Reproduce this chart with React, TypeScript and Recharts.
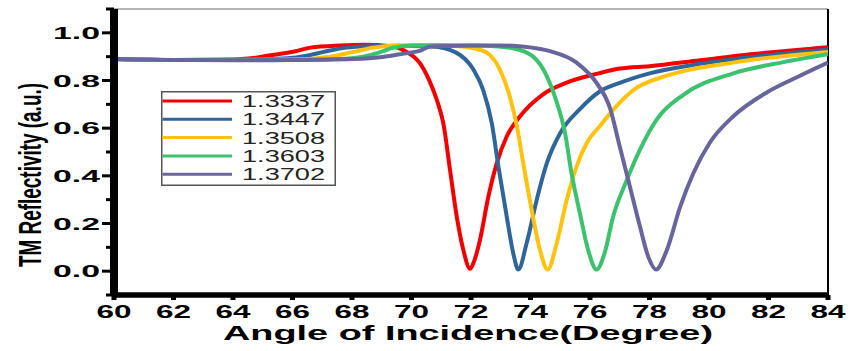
import React from "react";
import {
  Legend,
  Line,
  LineChart,
  ReferenceLine,
  XAxis,
  YAxis,
} from "recharts";

// refractive indices shown in the legend
const names: string[] = ["1.3337", "1.3447", "1.3508", "1.3603", "1.3702"];
const colors: string[] = ["#F20000", "#30659A", "#FFC20E", "#3CC26E", "#67659B"];

// angle of incidence (deg) and TM reflectivity, one pair per curve
const anglesA = [60, 62, 64, 64.6, 65.2, 65.6, 66.1, 66.6, 67.6, 68.4, 69.3, 69.8, 70.3, 70.7, 70.9, 71.07, 71.3, 71.52, 71.74, 71.97, 72.1, 72.3, 72.58, 72.86, 73.2, 73.65, 74.4, 75.2, 76.3, 77, 78, 79.7, 81.4, 84];
const reflA = [0.89, 0.886, 0.888, 0.893, 0.905, 0.912, 0.923, 0.938, 0.947, 0.95, 0.944, 0.923, 0.87, 0.77, 0.7, 0.62, 0.42, 0.23, 0.09, 0.01, 0.04, 0.13, 0.31, 0.45, 0.565, 0.65, 0.74, 0.79, 0.83, 0.85, 0.86, 0.885, 0.91, 0.94];

const anglesB = [60, 62, 64, 65, 66, 66.7, 67.26, 67.82, 68.6, 69.5, 70.7, 71.5, 72.08, 72.41, 72.7, 72.92, 73.2, 73.42, 73.59, 73.87, 74.21, 74.54, 75, 75.66, 76.34, 77, 78, 79.7, 81.94, 84];
const reflB = [0.89, 0.886, 0.887, 0.889, 0.895, 0.91, 0.926, 0.938, 0.944, 0.946, 0.943, 0.917, 0.846, 0.76, 0.62, 0.44, 0.23, 0.075, 0.007, 0.117, 0.3, 0.45, 0.58, 0.68, 0.755, 0.79, 0.83, 0.87, 0.905, 0.93];

const anglesC = [60, 62, 64, 66, 67.26, 68.16, 68.7, 69.5, 70.5, 71.6, 72.1, 72.53, 72.97, 73.31, 73.54, 73.76, 74.04, 74.32, 74.58, 74.88, 75.22, 75.55, 75.9, 76.34, 76.8, 77.46, 78.58, 80.8, 84];
const reflC = [0.89, 0.886, 0.887, 0.888, 0.9, 0.923, 0.938, 0.947, 0.948, 0.944, 0.935, 0.917, 0.846, 0.73, 0.61, 0.45, 0.257, 0.088, 0.007, 0.117, 0.3, 0.44, 0.54, 0.61, 0.68, 0.76, 0.82, 0.875, 0.92];

const anglesD = [60, 62, 64, 66, 67.5, 68.38, 69.05, 69.39, 70, 71, 72.5, 73.4, 74.09, 74.54, 74.88, 75.16, 75.38, 75.66, 75.94, 76.22, 76.5, 76.78, 77.23, 77.68, 78.24, 79.14, 80.82, 82.5, 84];
const reflD = [0.89, 0.886, 0.886, 0.887, 0.89, 0.9, 0.923, 0.938, 0.947, 0.948, 0.946, 0.935, 0.9, 0.82, 0.71, 0.58, 0.41, 0.243, 0.088, 0.007, 0.08, 0.23, 0.38, 0.51, 0.636, 0.74, 0.83, 0.877, 0.91];

const anglesE = [60, 62, 64, 66, 67, 68, 68.94, 69.5, 69.95, 70.3, 70.6, 71, 72, 73, 73.8, 74.66, 75.55, 76.22, 76.67, 77, 77.34, 77.68, 77.96, 78.22, 78.58, 79.03, 79.47, 80.03, 80.82, 81.94, 83.06, 84];
const reflE = [0.89, 0.886, 0.885, 0.886, 0.887, 0.89, 0.898, 0.908, 0.917, 0.925, 0.942, 0.945, 0.947, 0.947, 0.942, 0.923, 0.875, 0.79, 0.685, 0.523, 0.355, 0.187, 0.06, 0.007, 0.088, 0.27, 0.41, 0.54, 0.65, 0.75, 0.82, 0.875];

const xTicks = [60, 62, 64, 66, 68, 70, 72, 74, 76, 78, 80, 82, 84];
const yTicks = [-0.1, 0, 0.1, 0.2, 0.3, 0.4, 0.5, 0.6, 0.7, 0.8, 0.9, 1.0, 1.1];

const zip = (xs: number[], ys: number[]) => xs.map((angle, i) => ({ angle, v: ys[i] }));
const series = [
  zip(anglesA, reflA),
  zip(anglesB, reflB),
  zip(anglesC, reflC),
  zip(anglesD, reflD),
  zip(anglesE, reflE),
];

const FONT = "'Liberation Sans', Arial, sans-serif";

// the figure is stretched sideways, so glyphs are widened with textLength
const XTick = (props: any) => {
  const { x, y, payload } = props;
  return (
    <g>
      <line x1={x} x2={x} y1={y} y2={y + 5} stroke="#000" strokeWidth={5} />
      <text
        x={x - 17.5}
        y={y + 23}
        textLength={35}
        lengthAdjust="spacingAndGlyphs"
        fontFamily={FONT}
        fontWeight="bold"
        fontSize={18}
        fill="#000"
      >
        {payload.value}
      </text>
    </g>
  );
};

const YTick = (props: any) => {
  const { x, y, payload } = props;
  const major = Math.abs(Math.round(payload.value * 10)) % 2 === 0;
  return (
    <g>
      <line x1={x - (major ? 12 : 8)} x2={x} y1={y} y2={y} stroke="#000" strokeWidth={3} />
      {major && (
        <text
          x={x - 61}
          y={y + 6}
          textLength={47}
          lengthAdjust="spacingAndGlyphs"
          fontFamily={FONT}
          fontWeight="bold"
          fontSize={17}
          fill="#000"
        >
          {payload.value.toFixed(1)}
        </text>
      )}
    </g>
  );
};

const XTitle = (props: any) => {
  const { x, y, width } = props.viewBox;
  return (
    <text
      x={x + width / 2 - 248}
      y={y + 45}
      textLength={490}
      lengthAdjust="spacingAndGlyphs"
      fontFamily={FONT}
      fontWeight="bold"
      fontSize={19.5}
      fill="#000"
    >
      Angle of Incidence(Degree)
    </text>
  );
};

const YTitle = (props: any) => {
  const { y, height } = props.viewBox;
  const cy = y + height / 2 + 23;
  return (
    <text
      x={0}
      y={0}
      transform={`translate(41, ${cy + 92}) rotate(-90)`}
      textLength={184}
      lengthAdjust="spacingAndGlyphs"
      fontFamily={FONT}
      fontWeight="bold"
      fontSize={31}
      fill="#000"
    >
      TM Reflectivity (a.u.)
    </text>
  );
};

const LegendBox = () => (
  <svg width={175} height={95} style={{ display: "block" }}>
    <rect x={0.75} y={0.75} width={173.5} height={93.5} fill="#fff" stroke="#555" strokeWidth={1.5} />
    {names.map((name, i) => {
      const rowY = 10 + i * 18.3;
      return (
        <g key={name}>
          <line x1={1.5} x2={71} y1={rowY} y2={rowY} stroke={colors[i]} strokeWidth={3} />
          <text
            x={81}
            y={rowY + 6}
            textLength={83}
            lengthAdjust="spacingAndGlyphs"
            fontFamily={FONT}
            fontSize={17}
            fill="#222"
          >
            {name}
          </text>
        </g>
      );
    })}
  </svg>
);

const App: React.FC = () => {
  return (
    <div style={{ position: "absolute", left: 0, top: 0, background: "#fff" }}>
      <LineChart width={850} height={351} margin={{ top: 9, right: 22, bottom: 0, left: 0 }}>
        <XAxis
          type="number"
          dataKey="angle"
          domain={[60, 84]}
          ticks={xTicks}
          allowDataOverflow
          height={56}
          tickSize={0}
          tickMargin={0}
          tickLine={false}
          tick={<XTick />}
          axisLine={{ stroke: "#000", strokeWidth: 5 }}
          label={XTitle}
          interval={0}
        />
        <YAxis
          type="number"
          domain={[-0.1, 1.1]}
          ticks={yTicks}
          allowDataOverflow
          width={114}
          tickSize={0}
          tickMargin={0}
          tickLine={false}
          tick={<YTick />}
          axisLine={{ stroke: "#000", strokeWidth: 8 }}
          label={YTitle}
          interval={0}
        />
        <ReferenceLine y={1.1} stroke="#9a9a9a" strokeWidth={1.5} />
        <ReferenceLine x={84} stroke="#000" strokeWidth={2} />
        <ReferenceLine x={60} stroke="#000" strokeWidth={8} ifOverflow="visible" />
        <ReferenceLine y={-0.1} stroke="#000" strokeWidth={5} ifOverflow="visible" />
        <Legend
          layout="vertical"
          align="center"
          verticalAlign="middle"
          wrapperStyle={{ left: 161, top: 91, width: 175, height: 95 }}
          content={() => <LegendBox />}
        />
        {series.map((data, i) => (
          <Line
            key={names[i]}
            data={data}
            dataKey="v"
            name={names[i]}
            type="monotone"
            stroke={colors[i]}
            strokeWidth={4}
            dot={false}
            activeDot={false}
            isAnimationActive={false}
          />
        ))}
      </LineChart>
    </div>
  );
};

export default App;
